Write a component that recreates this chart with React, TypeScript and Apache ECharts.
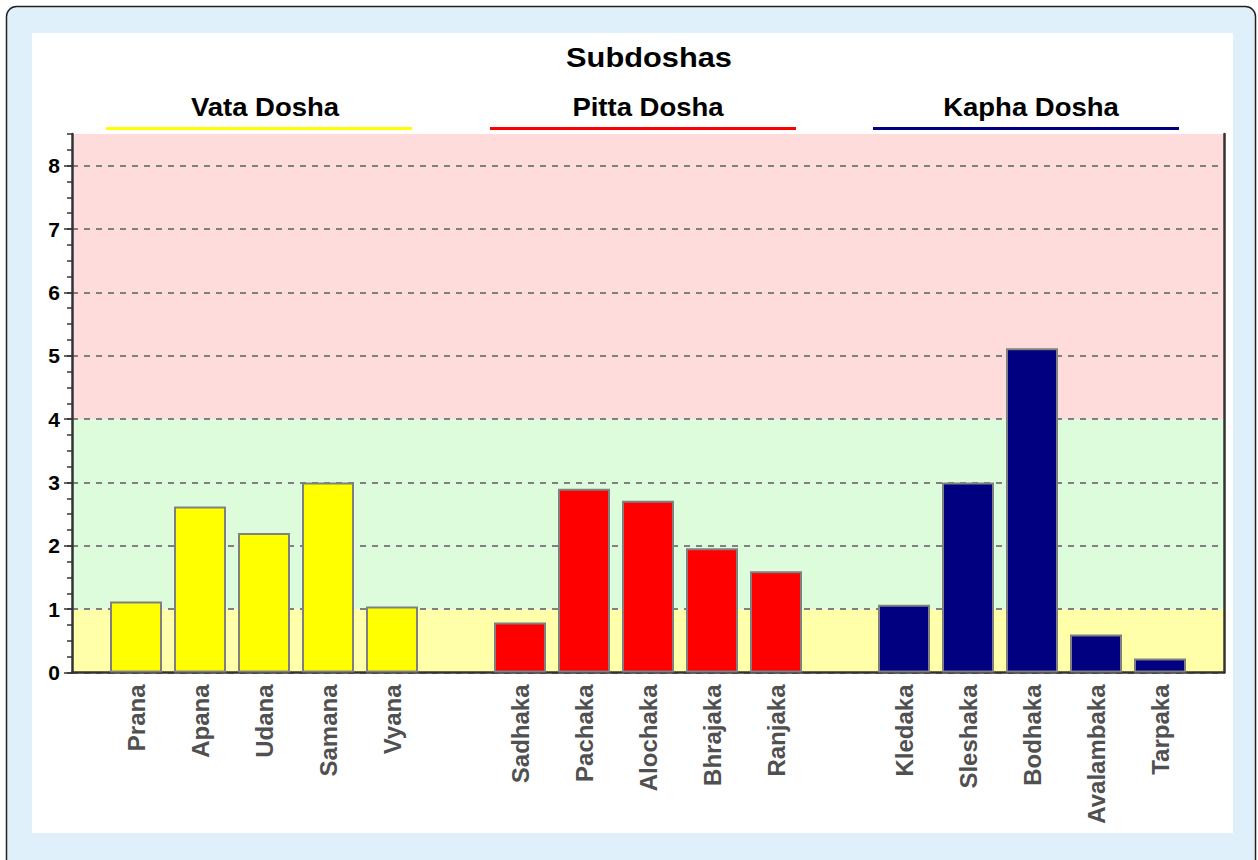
import React, { useEffect, useRef } from 'react';
import * as echarts from 'echarts';

const vataNames = ['Prana', 'Apana', 'Udana', 'Samana', 'Vyana'];
const vataValues = [1.12, 2.62, 2.2, 3.0, 1.04];
const pittaNames = ['Sadhaka', 'Pachaka', 'Alochaka', 'Bhrajaka', 'Ranjaka'];
const pittaValues = [0.79, 2.9, 2.71, 1.96, 1.6];
const kaphaNames = ['Kledaka', 'Sleshaka', 'Bodhaka', 'Avalambaka', 'Tarpaka'];
const kaphaValues = [1.07, 3.0, 5.12, 0.6, 0.22];
const groupTitles = ['Vata Dosha', 'Pitta Dosha', 'Kapha Dosha'];
const groupColors = ['#ffff00', '#ff0000', '#000080'];
const bandLimits = [1, 4, 8.5];
const bandColors = ['#ffffaa', '#dcfcdc', '#ffdcdc'];
const chartTitle = 'Subdoshas';

const FONT = '"Liberation Sans", Arial, sans-serif';

export default function App() {
  const ref = useRef<HTMLDivElement>(null);
  useEffect(() => {
    if (!ref.current) return;
    const chart = echarts.init(ref.current, undefined, { renderer: 'svg' });

    const groups = [
      { names: vataNames, values: vataValues },
      { names: pittaNames, values: pittaValues },
      { names: kaphaNames, values: kaphaValues },
    ];
    const categories: string[] = [''];
    const barData: any[] = ['-'];
    groups.forEach((g, gi) => {
      g.names.forEach((n, i) => {
        categories.push(n);
        barData.push({ value: g.values[i], itemStyle: { color: groupColors[gi] } });
      });
      categories.push('');
      barData.push('-');
    });

    const bandSeries = bandLimits.map((lim, i) => ({
      type: 'bar',
      xAxisIndex: 1,
      yAxisIndex: 0,
      stack: 'bands',
      barWidth: '100%',
      silent: true,
      z: -1,
      itemStyle: { color: bandColors[i] },
      emphasis: { disabled: true },
      data: [lim - (i > 0 ? bandLimits[i - 1] : 0)],
    }));

    const headerCenters = [265, 648, 1031];
    const lineStarts = [106, 490, 873];
    const lineWidthPx = 306;

    const graphic: any[] = [
      {
        type: 'rect',
        z: -100,
        shape: { x: 6.5, y: 6.5, width: 1249, height: 866, r: 10 },
        style: { fill: '#dff0fb', stroke: '#222', lineWidth: 1.5 },
        silent: true,
      },
      {
        type: 'rect',
        z: -99,
        shape: { x: 32, y: 33, width: 1201, height: 800 },
        style: { fill: '#ffffff' },
        silent: true,
      },
      {
        type: 'text',
        x: 649,
        y: 58,
        scaleX: 1.14,
        style: {
          text: chartTitle,
          fontFamily: FONT,
          fontSize: 27,
          fontWeight: 'bold',
          fill: '#000',
          textAlign: 'center',
          textVerticalAlign: 'middle',
        },
      },
    ];
    groupTitles.forEach((t, i) => {
      graphic.push({
        type: 'text',
        x: headerCenters[i],
        y: 107,
        scaleX: 1.1,
        style: {
          text: t,
          fontFamily: FONT,
          fontSize: 25,
          fontWeight: 'bold',
          fill: '#000',
          textAlign: 'center',
          textVerticalAlign: 'middle',
        },
      });
      graphic.push({
        type: 'line',
        shape: { x1: lineStarts[i], y1: 128.5, x2: lineStarts[i] + lineWidthPx, y2: 128.5 },
        style: { stroke: groupColors[i], lineWidth: 3 },
      });
    });

    chart.setOption({
      animation: false,
      backgroundColor: 'transparent',
      graphic,
      grid: { left: 72, right: 34, top: 134, bottom: 187.5, containLabel: false },
      xAxis: [
        {
          type: 'category',
          data: categories,
          boundaryGap: false,
          axisLine: { show: true, lineStyle: { color: '#333', width: 2.5 } },
          axisTick: { show: false },
          splitLine: { show: false },
          axisLabel: {
            rotate: 90,
            interval: 0,
            margin: 12,
            fontSize: 24,
            fontWeight: 'bold',
            fontFamily: FONT,
            color: '#505050',
          },
        },
        {
          type: 'category',
          data: ['band'],
          show: false,
          boundaryGap: true,
        },
      ],
      yAxis: [
        {
          type: 'value',
          min: 0,
          max: 8.5,
          interval: 1,
          axisLine: { show: true, lineStyle: { color: '#333', width: 2.5 } },
          axisTick: { show: true, length: 8, lineStyle: { color: '#333', width: 1.5 } },
          axisLabel: {
            margin: 12,
            fontSize: 21,
            fontWeight: 'bold',
            fontFamily: FONT,
            color: '#000',
            showMaxLabel: false,
          },
          splitLine: {
            show: true,
            showMaxLine: false,
            lineStyle: { color: '#808080', type: [6, 6], width: 1.8 },
          },
        },
        {
          type: 'value',
          position: 'left',
          min: 0,
          max: 8.5,
          interval: 0.25,
          axisLine: { show: false },
          axisTick: { show: true, length: 5, lineStyle: { color: '#333', width: 1.5 } },
          axisLabel: { show: false },
          splitLine: { show: false },
        },
        {
          type: 'value',
          position: 'right',
          min: 0,
          max: 8.5,
          axisLine: { show: true, lineStyle: { color: '#333', width: 2.5 } },
          axisTick: { show: false },
          axisLabel: { show: false },
          splitLine: { show: false },
        },
      ],
      series: [
        ...bandSeries,
        {
          type: 'bar',
          xAxisIndex: 0,
          yAxisIndex: 0,
          barWidth: 52,
          z: 2,
          itemStyle: { borderColor: '#808080', borderWidth: 2 },
          emphasis: { disabled: true },
          data: barData,
        },
      ],
    } as any);

    return () => chart.dispose();
  }, []);

  return (
    <div
      ref={ref}
      style={{ position: 'absolute', left: 0, top: 0, width: 1258, height: 860 }}
    />
  );
}
